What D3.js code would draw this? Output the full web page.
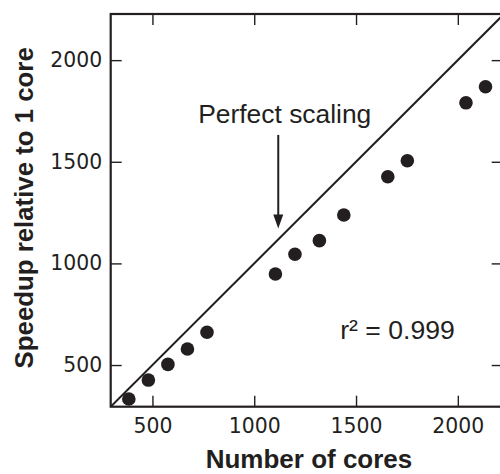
<!DOCTYPE html>
<html>
<head>
<meta charset="utf-8">
<script src="https://cdn.jsdelivr.net/npm/d3@7"></script>
<style>
  html, body { margin: 0; padding: 0; background: #fff; }
  svg { display: block; }
</style>
</head>
<body>
<svg id="chart" width="500" height="474"></svg>
<script>
// ---- data ----
const cores   = [384, 480, 576, 672, 768, 1104, 1200, 1320, 1440, 1656, 1752, 2040, 2136];
const speedup = [333, 426, 503, 579, 661, 948, 1045, 1112, 1238, 1426, 1505, 1790, 1869];
const xTicks = [500, 1000, 1500, 2000];
const yTicks = [500, 1000, 1500, 2000];
const xTitle = "Number of cores";
const yTitle = "Speedup relative to 1 core";
const perfectLabel = "Perfect scaling";
const r2Label = "r\u00B2 = 0.999";

// ---- layout ----
const ink = "#231f20";
const margin = {left: 110.7, top: 14};
const W = 392, H = 392.7;

const svg = d3.select("#chart");
const g = svg.append("g").attr("transform", `translate(${margin.left},${margin.top})`);

const x = d3.scaleLinear().domain([295, 2220.4]).range([0, W]);
const y = d3.scaleLinear().domain([295, 2227]).range([H, 0]);

svg.append("defs").append("clipPath").attr("id", "clip")
  .append("rect").attr("x", 0).attr("y", 0).attr("width", W).attr("height", H);

// axes with inward ticks
const tickFont = "'DejaVu Sans', sans-serif";
const axB = g.append("g").attr("transform", `translate(0,${H})`)
  .call(d3.axisBottom(x).tickValues(xTicks).tickSize(-11).tickPadding(12.2).tickFormat(d3.format("d")));
const axT = g.append("g")
  .call(d3.axisTop(x).tickValues(xTicks).tickSize(-11).tickFormat(""));
const axL = g.append("g")
  .call(d3.axisLeft(y).tickValues(yTicks).tickSize(-11).tickPadding(8.5).tickFormat(d3.format("d")));
const axR = g.append("g").attr("transform", `translate(${W},0)`)
  .call(d3.axisRight(y).tickValues(yTicks).tickSize(-11).tickFormat(""));

[axB, axT, axL, axR].forEach(a => {
  a.select(".domain").remove();
  a.selectAll(".tick line").attr("stroke", ink).attr("stroke-width", 1.4);
  a.selectAll(".tick text").attr("fill", ink).style("font-family", tickFont).style("font-size", "20.4px");
});

// frame
g.append("rect").attr("x", 0).attr("y", 0).attr("width", W).attr("height", H)
  .attr("fill", "none").attr("stroke", ink).attr("stroke-width", 2.2);

// perfect scaling line
g.append("line").attr("clip-path", "url(#clip)")
  .attr("x1", x(295)).attr("y1", y(295))
  .attr("x2", x(2300)).attr("y2", y(2300))
  .attr("stroke", ink).attr("stroke-width", 2);

// points
g.selectAll("circle.pt").data(cores.map((c, i) => [c, speedup[i]]))
  .enter().append("circle").attr("class", "pt")
  .attr("cx", d => x(d[0])).attr("cy", d => y(d[1]))
  .attr("r", 6.8).attr("fill", ink);

// annotations
const labelFont = "'Liberation Sans', Arial, Helvetica, sans-serif";
g.append("text").attr("x", x(1150)).attr("y", y(1690))
  .attr("text-anchor", "middle").attr("fill", ink)
  .style("font-family", labelFont).style("font-size", "26.4px").text(perfectLabel);

const ax = x(1118), ay0 = y(1632), ayTip = y(1172);
g.append("line").attr("x1", ax).attr("x2", ax).attr("y1", ay0).attr("y2", ayTip - 10)
  .attr("stroke", ink).attr("stroke-width", 2);
g.append("path")
  .attr("d", `M${ax - 5},${ayTip - 14} L${ax + 5},${ayTip - 14} L${ax},${ayTip} Z`)
  .attr("fill", ink);

g.append("text").attr("x", x(1704)).attr("y", y(627))
  .attr("text-anchor", "middle").attr("fill", ink)
  .style("font-family", labelFont).style("font-size", "26.6px").text(r2Label);

// axis titles
svg.append("text").attr("x", 309).attr("y", 468.3)
  .attr("text-anchor", "middle").attr("fill", ink)
  .style("font-family", labelFont).style("font-weight", "bold").style("font-size", "26px")
  .text(xTitle);

svg.append("text")
  .attr("transform", `translate(33.3,${margin.top + H / 2 - 2.5}) rotate(-90)`)
  .attr("text-anchor", "middle").attr("fill", ink)
  .style("font-family", labelFont).style("font-weight", "bold").style("font-size", "25.8px")
  .text(yTitle);
</script>
</body>
</html>
